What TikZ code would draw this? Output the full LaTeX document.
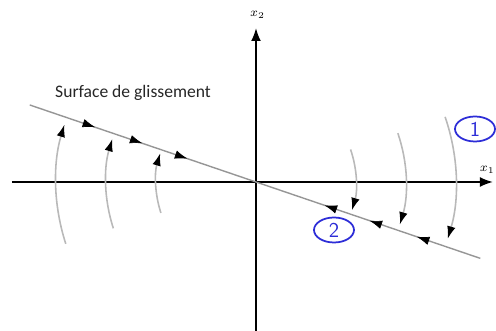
\documentclass[tikz,border=0pt]{standalone}
\usepackage{fontspec}
\setmainfont{Carlito}
\usepackage{tikz}
\usetikzlibrary{arrows.meta,positioning,shapes.geometric}
\definecolor{SBlue}{RGB}{45,45,215}
\definecolor{SGray}{RGB}{185,185,185}
\definecolor{LGray}{RGB}{150,150,150}

\begin{document}
\begin{tikzpicture}[
    axis/.style={line width=1.1pt, -{Latex[length=2.6mm,width=2mm]}},
    flowarc/.style={SGray, line width=0.9pt, -{Latex[color=black,length=2.5mm,width=1.7mm]}},
    slip/.style={-{Latex[color=black,length=2.5mm,width=1.7mm]}},
    zone/.style={ellipse, draw=SBlue, line width=1pt, text=SBlue, font=\large\sffamily,
      minimum width=0.8cm, minimum height=0.5cm, inner sep=0pt}
  ]
  \useasboundingbox (-5.12,-2.98) rectangle (4.8,3.64);

  % axes
  \coordinate (O) at (0,0);
  \coordinate (xa) at (-4.88,0);
  \coordinate (xb) at (4.74,0);
  \coordinate (ya) at (0,-3.1);
  \coordinate (yb) at (0,3.08);
  \draw[axis] (xa) -- (xb);
  \draw[axis] (ya) -- (yb);
  \node[anchor=east, inner sep=0pt, font=\scriptsize] (xone) at (4.78,0.24) {$x_1$};
  \node[inner sep=0pt, font=\scriptsize] (xtwo) at (0.03,3.34) {$x_2$};

  % slip surface
  \coordinate (sa) at (161.2:4.78);
  \coordinate (sb) at (-18.8:4.74);
  \draw[LGray, line width=0.8pt] (sa) -- (sb);
  \node[text=black!85] (surf) at (-2.46,1.78) {Surface de glissement};

  % arcs and arrows along the surface
  \foreach \r/\t in {2/1.45, 3/2.4, 4/3.4} {
    \draw[flowarc] (198:\r) arc[start angle=198, end angle=163.3, radius=\r];
    \draw[flowarc] (19:\r) arc[start angle=19, end angle=-16.5, radius=\r];
    \draw[slip] (161.2:\t+0.05) -- (161.2:\t);
    \draw[slip] (-18.8:\t+0.05) -- (-18.8:\t);
  }

  \node[zone] (one) at (4.38,1.06) {1};
  \node[zone] (two) at (1.56,-0.96) {2};
\end{tikzpicture}
\end{document}
